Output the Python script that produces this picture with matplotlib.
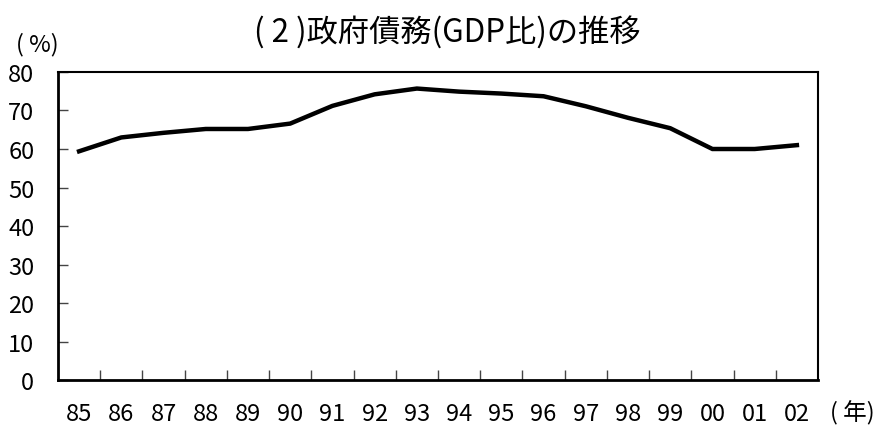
import matplotlib
matplotlib.use("Agg")
import matplotlib.pyplot as plt
import numpy as np

plt.rcParams['font.family'] = ['Noto Sans CJK JP', 'DejaVu Sans']

years = ["85", "86", "87", "88", "89", "90", "91", "92", "93", "94",
         "95", "96", "97", "98", "99", "00", "01", "02"]
debt_ratio = [59.4, 63.0, 64.2, 65.2, 65.2, 66.6, 71.2, 74.2, 75.7, 74.9,
              74.4, 73.7, 71.1, 68.1, 65.4, 60.0, 60.0, 61.0]
y_ticks = [0, 10, 20, 30, 40, 50, 60, 70, 80]

fig = plt.figure(figsize=(8.81, 4.35), dpi=100)
ax = fig.add_axes([0.0658, 0.1241, 0.8627, 0.7081])

x = np.arange(len(years))
ax.plot(x, debt_ratio, color='black', linewidth=3.2, solid_joinstyle='miter')

ax.set_xlim(-0.5, len(years) - 0.5)
ax.set_ylim(0, 80)
ax.set_yticks(y_ticks)
ax.set_yticklabels([str(v) for v in y_ticks], fontsize=17)
ax.set_xticks(x)
ax.set_xticklabels(years, fontsize=17)
ax.set_xticks(np.arange(0.5, len(years) - 1, 1.0), minor=True)

ax.tick_params(axis='x', which='major', length=0, pad=16)
ax.tick_params(axis='x', which='minor', direction='in', length=7, width=1, color='#444444')
ax.tick_params(axis='y', which='major', direction='in', length=7, width=1, color='#444444', pad=17)

for side in ['left', 'bottom']:
    ax.spines[side].set_linewidth(2.0)
for side in ['top', 'right']:
    ax.spines[side].set_linewidth(1.5)

fig.text(0.508, 0.924, "( 2 )政府債務(GDP比)の推移", ha='center', va='center', fontsize=22.5)
fig.text(0.042, 0.897, "( %)", ha='center', va='center', fontsize=17)
fig.text(0.968, 0.05, "( 年)", ha='center', va='center', fontsize=17)

fig.savefig("out.png", dpi=100, facecolor='white')
